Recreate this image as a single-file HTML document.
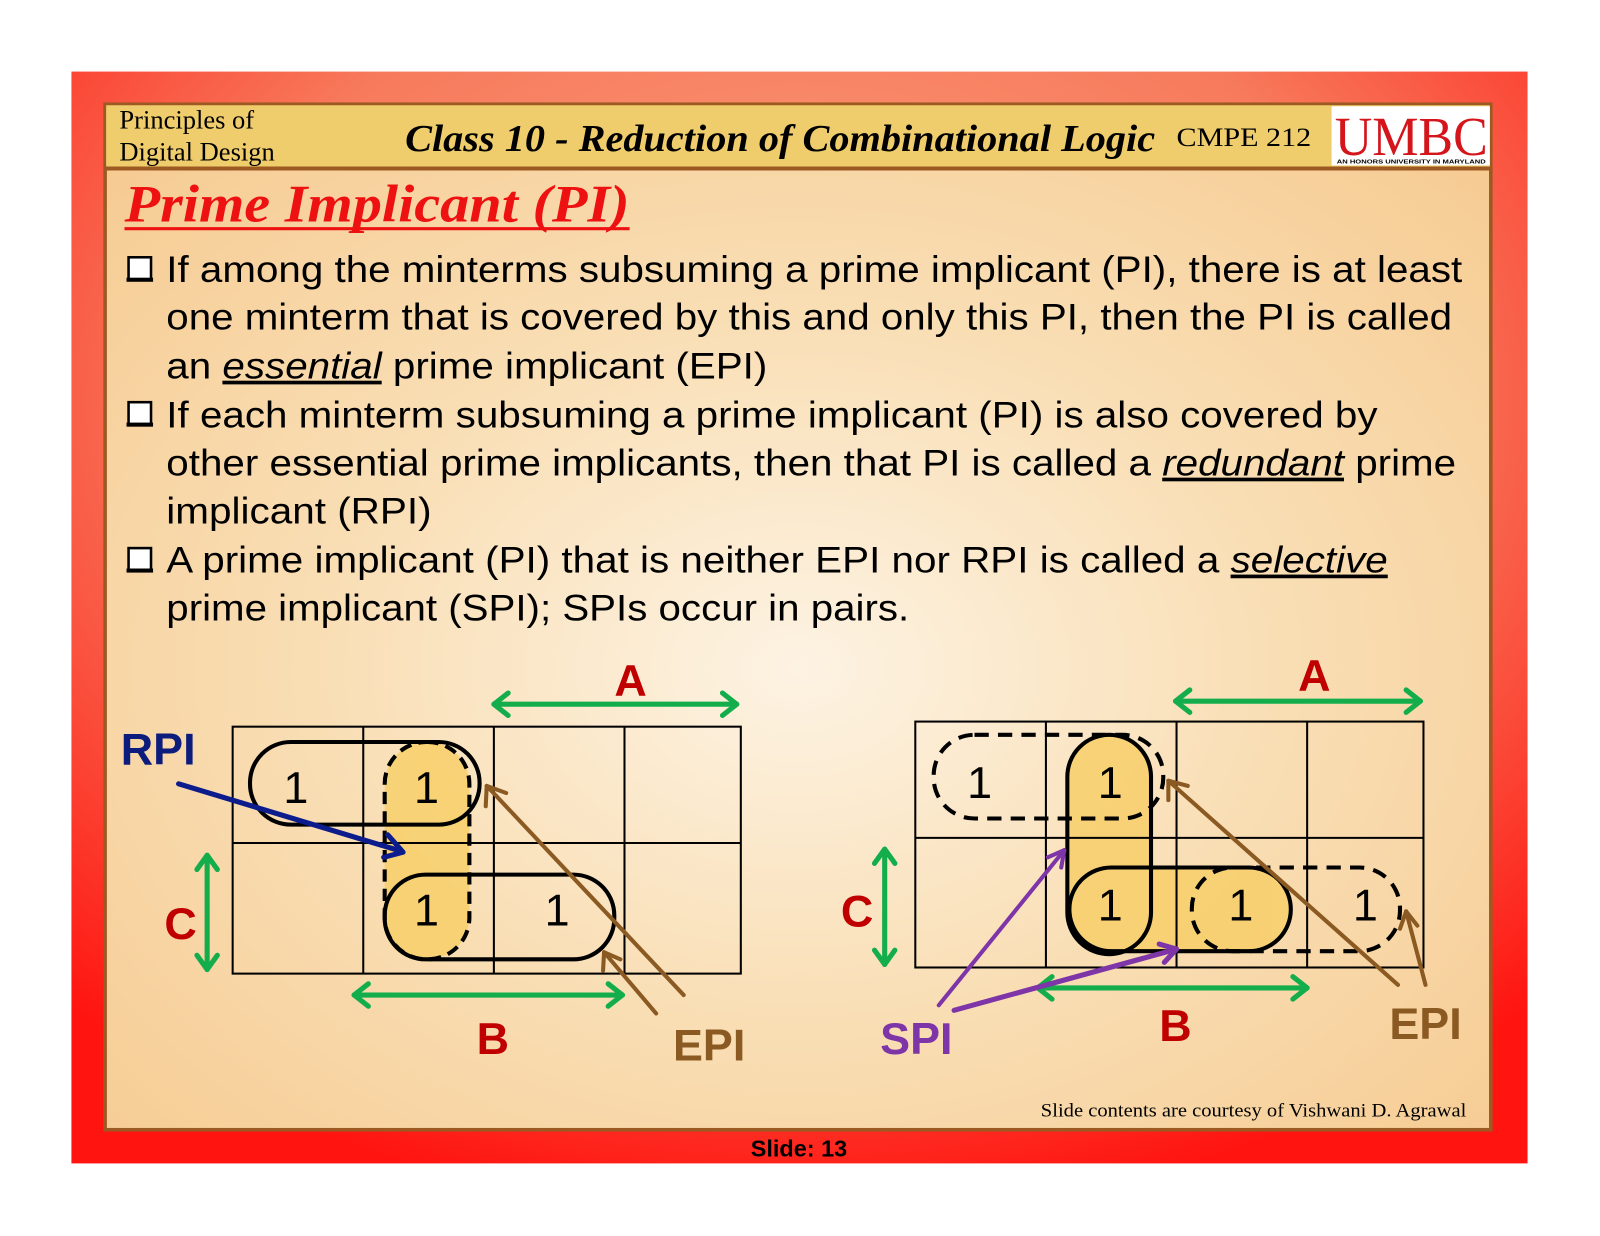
<!DOCTYPE html>
<html><head><meta charset="utf-8"><style>html,body{margin:0;padding:0;background:#fff}svg{display:block}</style></head>
<body>
<svg width="1600" height="1236" viewBox="0 0 1568 1211" xmlns="http://www.w3.org/2000/svg">
<defs>
<radialGradient id="red" cx="0.5" cy="0.3" r="0.75">
<stop offset="0" stop-color="#f9a27f"/><stop offset="0.55" stop-color="#f77a5c"/><stop offset="1" stop-color="#ff1410"/></radialGradient>
<radialGradient id="body" cx="0.5" cy="0.55" r="0.7">
<stop offset="0" stop-color="#fdf3e3"/><stop offset="0.5" stop-color="#f9deb4"/><stop offset="1" stop-color="#f6cb92"/></radialGradient>
</defs>
<rect x="70" y="70" width="1427" height="1070" fill="url(#red)"/>
<rect x="103" y="102" width="1358" height="1005" fill="url(#body)" stroke="#9c5a22" stroke-width="3.5"/>
<rect x="104" y="103" width="1356" height="61" fill="#f0cd6c"/>
<line x1="103" y1="165" x2="1461" y2="165" stroke="#9c5a22" stroke-width="4"/>
<g font-family="Liberation Serif, serif">
<text x="117" y="126" font-size="26">Principles of</text>
<text x="117" y="157" font-size="26">Digital Design</text>
<text x="397" y="148" font-size="37" font-style="italic" font-weight="bold" textLength="735" lengthAdjust="spacingAndGlyphs">Class 10 - Reduction of Combinational Logic</text>
<text x="1153" y="143" font-size="26" textLength="132" lengthAdjust="spacingAndGlyphs">CMPE 212</text>
<rect x="1305" y="104" width="155" height="58" fill="#fff"/>
<text x="1308" y="152" font-size="54" fill="#d4151b" textLength="150" lengthAdjust="spacingAndGlyphs">UMBC</text>
<text x="1310" y="160" font-size="5.5" font-family="Liberation Sans, sans-serif" font-weight="bold" textLength="146" lengthAdjust="spacingAndGlyphs">AN HONORS UNIVERSITY IN MARYLAND</text>
<text x="122" y="217" font-size="52" font-style="italic" font-weight="bold" fill="#ee1111" textLength="495" lengthAdjust="spacingAndGlyphs">Prime Implicant (PI)</text>
<line x1="122" y1="224" x2="617" y2="224" stroke="#ee1111" stroke-width="3"/>
<text x="1020" y="1094" font-size="19" textLength="417" lengthAdjust="spacingAndGlyphs">Slide contents are courtesy of  Vishwani D. Agrawal</text>
</g>
<text x="783" y="1133" font-size="23" font-weight="bold" font-family="Liberation Sans, sans-serif" text-anchor="middle">Slide: 13</text>
<g fill="#fff" stroke="#000" stroke-width="2.5">
<rect x="126" y="252" width="22" height="22"/><rect x="126" y="394" width="22" height="22"/><rect x="126" y="537" width="22" height="22"/>
</g>
<g fill="#000"><rect x="124" y="272" width="26" height="4"/><rect x="124" y="414" width="26" height="4"/><rect x="124" y="557" width="26" height="4"/></g>
<g font-family="Liberation Sans, sans-serif" font-size="36" fill="#000">
<text x="163" y="276" textLength="1270" lengthAdjust="spacingAndGlyphs">If among the minterms subsuming a prime implicant (PI), there is at least</text>
<text x="163" y="323" textLength="1260" lengthAdjust="spacingAndGlyphs">one minterm that is covered by this and only this PI, then the PI is called</text>
<text x="163" y="371" textLength="589" lengthAdjust="spacingAndGlyphs">an <tspan font-style="italic" text-decoration="underline">essential</tspan> prime implicant (EPI)</text>
<text x="163" y="419" textLength="1187" lengthAdjust="spacingAndGlyphs">If each minterm subsuming a prime implicant (PI) is also covered by</text>
<text x="163" y="466" textLength="1264" lengthAdjust="spacingAndGlyphs">other essential prime implicants, then that PI is called a <tspan font-style="italic" text-decoration="underline">redundant</tspan> prime</text>
<text x="163" y="513" textLength="260" lengthAdjust="spacingAndGlyphs">implicant (RPI)</text>
<text x="163" y="561" textLength="1197" lengthAdjust="spacingAndGlyphs">A prime implicant (PI) that is neither EPI nor RPI is called a <tspan font-style="italic" text-decoration="underline">selective</tspan></text>
<text x="163" y="608" textLength="728" lengthAdjust="spacingAndGlyphs">prime implicant (SPI); SPIs occur in pairs.</text>
</g>
<rect x="377" y="727" width="83" height="213" rx="41" fill="#f8cf6a" opacity="0.85"/>
<g stroke="#000" stroke-width="2" fill="none">
<rect x="228" y="712" width="498" height="242"/>
<line x1="356" y1="712" x2="356" y2="954"/><line x1="484" y1="712" x2="484" y2="954"/><line x1="612" y1="712" x2="612" y2="954"/>
<line x1="228" y1="826" x2="726" y2="826"/>
</g>
<g stroke="#000" stroke-width="4" fill="none">
<rect x="245" y="727" width="225" height="81" rx="40"/>
<rect x="377" y="857" width="225" height="83" rx="40"/>
<rect x="377" y="727" width="83" height="213" rx="41" stroke-dasharray="12,7"/>
</g>
<g font-family="Liberation Sans, sans-serif" font-size="44" text-anchor="middle">
<text x="290" y="787">1</text><text x="418" y="787">1</text><text x="418" y="907">1</text><text x="546" y="907">1</text>
</g>
<g fill="#f8cf6a" opacity="0.85">
<rect x="1046" y="720" width="82" height="215" rx="41"/>
<rect x="1048" y="850" width="217" height="82" rx="41"/>
</g>
<g stroke="#000" stroke-width="2" fill="none">
<rect x="897" y="707" width="498" height="241"/>
<line x1="1025" y1="707" x2="1025" y2="948"/><line x1="1153" y1="707" x2="1153" y2="948"/><line x1="1281" y1="707" x2="1281" y2="948"/>
<line x1="897" y1="821" x2="1395" y2="821"/>
</g>
<g stroke="#000" stroke-width="4" fill="none">
<rect x="915" y="720" width="225" height="82" rx="40" stroke-dasharray="14,9"/>
<rect x="1168" y="850" width="204" height="82" rx="40" stroke-dasharray="14,9"/>
<rect x="1046" y="720" width="82" height="215" rx="41"/>
<rect x="1048" y="850" width="217" height="82" rx="41"/>
</g>
<g font-family="Liberation Sans, sans-serif" font-size="44" text-anchor="middle">
<text x="960" y="782">1</text><text x="1088" y="782">1</text><text x="1088" y="902">1</text><text x="1216" y="902">1</text><text x="1338" y="902">1</text>
</g>
<g stroke="#13ad4c" stroke-width="5" fill="none" stroke-linecap="round" stroke-linejoin="round">
<line x1="484" y1="690" x2="722" y2="690"/><polyline points="498,679 484,690 498,701"/><polyline points="708,679 722,690 708,701"/>
<line x1="203" y1="838" x2="203" y2="950"/><polyline points="193,852 203,838 213,852"/><polyline points="193,936 203,950 213,936"/>
<line x1="347" y1="975" x2="610" y2="975"/><polyline points="361,964 347,975 361,986"/><polyline points="596,964 610,975 596,986"/>
<line x1="1152" y1="687" x2="1392" y2="687"/><polyline points="1166,676 1152,687 1166,698"/><polyline points="1378,676 1392,687 1378,698"/>
<line x1="867" y1="832" x2="867" y2="945"/><polyline points="857,846 867,832 877,846"/><polyline points="857,931 867,945 877,931"/>
<line x1="1017" y1="968" x2="1281" y2="968"/><polyline points="1031,957 1017,968 1031,979"/><polyline points="1267,957 1281,968 1267,979"/>
</g>
<g stroke-width="4" fill="none" stroke-linecap="round" stroke-linejoin="round">
<line x1="175" y1="768" x2="393" y2="834" stroke="#0c1c8c" stroke-width="5"/><polyline points="380,818 395,835 376,840" stroke="#0c1c8c" stroke-width="5"/>
<g stroke="#8b5a22">
<line x1="670" y1="975" x2="477" y2="770"/><polyline points="476,790 477,770 496,777"/>
<line x1="643" y1="993" x2="592" y2="933"/><polyline points="591,951 592,933 608,940"/>
<line x1="1370" y1="965" x2="1145" y2="765"/><polyline points="1145,784 1145,765 1164,770"/>
<line x1="1397" y1="965" x2="1378" y2="893"/><polyline points="1372,910 1378,893 1389,907"/>
</g>
<g stroke="#7d35a8">
<line x1="920" y1="985" x2="1043" y2="833"/><polyline points="1027,840 1043,833 1040,850"/>
<line x1="935" y1="990" x2="1153" y2="930" stroke-width="5"/><polyline points="1136,925 1153,930 1141,943" stroke-width="5"/>
</g>
</g>
<g font-family="Liberation Sans, sans-serif" font-weight="bold" font-size="44" text-anchor="middle">
<text x="618" y="682" fill="#c00000">A</text>
<text x="155" y="749" fill="#0c1c7c">RPI</text>
<text x="177" y="920" fill="#c00000">C</text>
<text x="483" y="1033" fill="#c00000">B</text>
<text x="695" y="1039" fill="#8b5a22">EPI</text>
<text x="1288" y="677" fill="#c00000">A</text>
<text x="840" y="908" fill="#c00000">C</text>
<text x="898" y="1033" fill="#7d35a8">SPI</text>
<text x="1152" y="1020" fill="#c00000">B</text>
<text x="1397" y="1018" fill="#8b5a22">EPI</text>
</g>
</svg>
</body></html>
